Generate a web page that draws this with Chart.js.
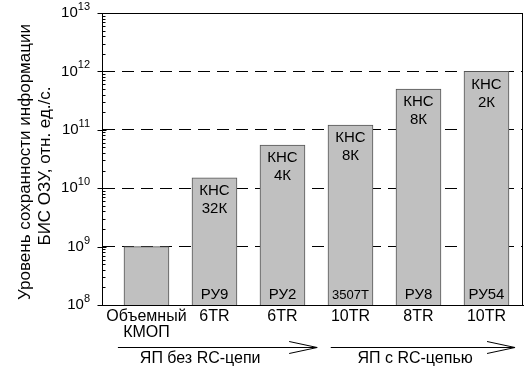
<!DOCTYPE html>
<html lang="ru">
<head>
<meta charset="UTF-8">
<title>Уровень сохранности информации БИС ОЗУ</title>
<style>
  body { margin: 0; background: #fff; }
  #wrap { width: 528px; height: 369px; }
</style>
</head>
<body>
<div id="wrap"><canvas id="chart" width="528" height="369"></canvas></div>
<script src="https://cdn.jsdelivr.net/npm/chart.js"></script>
<script>
  // data
  const categories = [['Объемный', 'КМОП'], '6TR', '6TR', '10TR', '8TR', '10TR'];
  const values = [1e9, 1.5e10, 5.5e10, 1.2e11, 5e11, 1e12];
  const topLabels = [null, ['КНС', '32К'], ['КНС', '4К'], ['КНС', '8К'], ['КНС', '8К'], ['КНС', '2К']];
  const bottomLabels = [null, 'РУ9', 'РУ2', '3507Т', 'РУ8', 'РУ54'];
  const yTicks = [8, 9, 10, 11, 12, 13];
  const groupNames = ['ЯП без RC-цепи', 'ЯП с RC-цепью'];
  const groupFrom = [-0.42, 2.71];
  const groupTo = [2.51, 5.42];
  const groupTextAt = [0.79, 3.95];

  const FONT = '"Liberation Sans", Arial, sans-serif';

  const decor = {
    id: 'decor',
    afterDraw(chart) {
      const ctx = chart.ctx;
      const area = chart.chartArea;
      const x = chart.scales.x, y = chart.scales.y;
      ctx.save();

      // box
      ctx.strokeStyle = '#000';
      ctx.lineWidth = 1;
      ctx.strokeRect(area.left + 0.5, area.top + 0.5, area.right - area.left - 1, area.bottom - area.top);

      // y ticks: major cross the axis, minor inside
      ctx.beginPath();
      const ax = Math.round(area.left) + 0.5;
      yTicks.forEach(function(p, i) {
        const py = Math.round(y.getPixelForValue(Math.pow(10, p))) + 0.5;
        ctx.moveTo(ax - 5, py); ctx.lineTo(ax + 4, py);
        if (i < yTicks.length - 1) {
          for (let m = 2; m <= 9; m++) {
            const my = Math.round(y.getPixelForValue(m * Math.pow(10, p))) + 0.5;
            ctx.moveTo(ax, my); ctx.lineTo(ax + 3, my);
          }
        }
      });
      ctx.stroke();

      // y tick labels 10^n
      ctx.fillStyle = '#000';
      ctx.textBaseline = 'middle';
      yTicks.forEach(function(p) {
        const py = y.getPixelForValue(Math.pow(10, p));
        ctx.font = '11px ' + FONT;
        const ew = ctx.measureText(String(p)).width;
        ctx.textAlign = 'left';
        const right = 90;
        ctx.fillText(String(p), right - ew, py - 6);
        ctx.font = '15px ' + FONT;
        ctx.textAlign = 'right';
        ctx.fillText('10', right - ew, py);
      });

      // y title
      ctx.font = '17px ' + FONT;
      ctx.textAlign = 'center';
      ctx.save();
      ctx.translate(25, 162);
      ctx.rotate(-Math.PI / 2);
      ctx.fillText('Уровень сохранности информации', 0, 0);
      ctx.restore();
      ctx.save();
      ctx.translate(45, 166);
      ctx.rotate(-Math.PI / 2);
      ctx.fillText('БИС ОЗУ, отн. ед./с.', 0, 0);
      ctx.restore();

      // labels inside bars
      const meta = chart.getDatasetMeta(0);
      meta.data.forEach(function(bar, i) {
        if (topLabels[i]) {
          ctx.font = '15px ' + FONT;
          topLabels[i].forEach(function(t, k) {
            ctx.fillText(t, bar.x, bar.y + 13 + k * 18);
          });
        }
        if (bottomLabels[i]) {
          ctx.font = (bottomLabels[i].length > 4 ? '13px ' : '15px ') + FONT;
          ctx.fillText(bottomLabels[i], bar.x, area.bottom - 10);
        }
      });

      // group arrows
      const ay = 347.5;
      ctx.beginPath();
      groupNames.forEach(function(name, g) {
        const x0 = x.getPixelForValue(groupFrom[g]);
        const x1 = x.getPixelForValue(groupTo[g]);
        ctx.moveTo(x0, ay); ctx.lineTo(x1, ay);
        ctx.moveTo(x1 - 28, ay - 6); ctx.lineTo(x1, ay); ctx.lineTo(x1 - 28, ay + 6);
      });
      ctx.stroke();
      ctx.font = '16px ' + FONT;
      groupNames.forEach(function(name, g) {
        ctx.fillText(name, x.getPixelForValue(groupTextAt[g]), 359);
      });

      ctx.restore();
    }
  };

  new Chart(document.getElementById('chart'), {
    type: 'bar',
    data: {
      datasets: [{
        data: values.map(function(v, i) { return { x: i, y: v }; }),
        backgroundColor: '#c0c0c0',
        borderColor: '#555',
        borderWidth: 1,
        barThickness: 45
      }]
    },
    options: {
      responsive: false,
      animation: false,
      layout: { padding: { top: 13, right: 5, left: 0, bottom: 0 } },
      plugins: { legend: { display: false }, tooltip: { enabled: false } },
      scales: {
        x: {
          type: 'linear',
          offset: false,
          min: -0.654,
          max: 5.537,
          afterBuildTicks: function(s) { s.ticks = categories.map(function(c, i) { return { value: i }; }); },
          afterFit: function(s) { s.height = 64; },
          grid: { display: false, drawTicks: false },
          border: { color: '#000', width: 1 },
          ticks: {
            padding: 4,
            color: '#000',
            font: { family: FONT, size: 16, lineHeight: 1 },
            maxRotation: 0,
            autoSkip: false,
            callback: function(v) { return categories[v]; }
          }
        },
        y: {
          type: 'logarithmic',
          min: 1e8,
          max: 1e13,
          afterBuildTicks: function(s) { s.ticks = yTicks.map(function(p) { return { value: Math.pow(10, p) }; }); },
          afterFit: function(s) { s.width = 102; },
          grid: {
            drawTicks: false,
            color: function(c) {
              const v = c.tick && c.tick.value;
              return (v > 1e8 && v < 1e13) ? '#000' : 'rgba(0,0,0,0)';
            },
            lineWidth: 1
          },
          border: { color: '#000', width: 1, dash: [12, 7] },
          ticks: { display: false }
        }
      }
    },
    plugins: [decor]
  });
</script>
</body>
</html>
